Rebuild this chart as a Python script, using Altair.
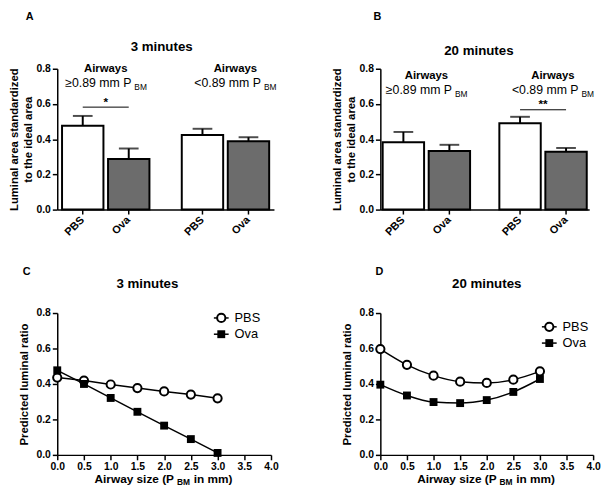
import altair as alt
import pandas as pd

FONT = "Liberation Sans"

# ---------------- data ----------------
treatments = ["PBS", "Ova"]
groups = ["large", "small"]
header_line1 = ["Airways", "Airways"]
header_line2 = ["\u22650.89 mm P", "<0.89 mm P"]
header_sub = "BM"

# Panel A (3 minutes): bar means and upper SEM ends, order PBS, Ova, PBS, Ova
a_mean = [0.476, 0.287, 0.424, 0.388]
a_err = [0.532, 0.347, 0.459, 0.411]
# Panel B (20 minutes)
b_mean = [0.382, 0.333, 0.491, 0.328]
b_err = [0.441, 0.368, 0.527, 0.350]

# Panels C/D: predicted luminal ratio vs airway size
sizes = [0.0, 0.5, 1.0, 1.5, 2.0, 2.5, 3.0]
c_pbs = [0.436, 0.419, 0.397, 0.377, 0.358, 0.340, 0.319]
c_ova = [0.477, 0.400, 0.321, 0.243, 0.165, 0.089, 0.011]
d_pbs = [0.597, 0.508, 0.447, 0.413, 0.406, 0.424, 0.471]
d_ova = [0.396, 0.335, 0.298, 0.292, 0.309, 0.355, 0.428]

y_ticks = [0.0, 0.2, 0.4, 0.6, 0.8]
x_ticks = [0.0, 0.5, 1.0, 1.5, 2.0, 2.5, 3.0, 3.5, 4.0]
bar_ytitle = ["Luminal area standardized", "to the ideal area"]
line_ytitle = "Predicted luminal ratio"
xtitle_parts = ["Airway size (P", "BM", "in mm)"]


def txt(s):
    return alt.Chart(pd.DataFrame({"t": [s]}))


def bar_panel(letter, title, means, errs, sig_group, sig_y, star, star_y,
              w, pad_in, pad_out, head_y, letter_xy, title_xy):
    H = 143
    df = pd.DataFrame({
        "group": [g for g in groups for _ in treatments],
        "treatment": treatments * 2,
        "mean": means,
        "err": errs,
    })
    xs = alt.Scale(domain=groups, paddingInner=pad_in, paddingOuter=pad_out)
    xo = alt.Scale(domain=treatments, paddingInner=0.1, paddingOuter=0)
    ys = alt.Scale(domain=[0, 0.8], nice=False)
    X = alt.X("group:N", scale=xs,
              axis=alt.Axis(labels=False, ticks=False, title=None, domain=True))
    XO = alt.XOffset("treatment:N", scale=xo)
    yax = alt.Axis(values=y_ticks, format=".1f", titlePadding=3, titleLineHeight=14)
    base = alt.Chart(df)
    bars = base.mark_bar(stroke="black", strokeWidth=2).encode(
        x=X, xOffset=XO,
        y=alt.Y("mean:Q", scale=ys, axis=yax, title=bar_ytitle),
        fill=alt.Fill("treatment:N",
                      scale=alt.Scale(domain=treatments, range=["white", "#6c6c6c"]),
                      legend=None),
    )
    ebar = base.mark_rule(color="black", strokeWidth=2).encode(
        x=X, xOffset=XO,
        y=alt.Y("mean:Q", scale=ys, axis=yax, title=bar_ytitle), y2="err:Q")
    cap = base.mark_tick(color="black", thickness=2, size=20).encode(
        x=X, xOffset=XO,
        y=alt.Y("err:Q", scale=ys, axis=yax, title=bar_ytitle))
    xt = base.mark_rule(color="black", strokeWidth=1.5).encode(
        x=X, xOffset=XO, y=alt.value(H), y2=alt.value(H + 5))
    xl = base.mark_text(angle=315, align="right", baseline="middle",
                        fontWeight="bold", fontSize=11, color="black").encode(
        x=X, xOffset=XO, y=alt.value(H + 9), text="treatment:N")

    sig = pd.DataFrame({"group": [sig_group, sig_group],
                        "treatment": treatments, "y": [sig_y, sig_y]})
    sigline = alt.Chart(sig).mark_line(color="black", strokeWidth=1).encode(
        x=X, xOffset=XO, y=alt.Y("y:Q", scale=ys, axis=yax, title=bar_ytitle))
    stardf = pd.DataFrame({"group": [sig_group], "y": [star_y], "t": [star]})
    startext = alt.Chart(stardf).mark_text(fontWeight="bold", fontSize=12,
                                           color="black").encode(
        x=X, y=alt.Y("y:Q", scale=ys, axis=yax, title=bar_ytitle), text="t:N")

    layers = [bars, ebar, cap, xt, xl, sigline, startext]
    for i, g in enumerate(groups):
        hd = pd.DataFrame({"group": [g], "l1": [header_line1[i]],
                           "l2": [header_line2[i]], "sub": [header_sub]})
        dx = 0 if i == 0 else 10
        hb = alt.Chart(hd)
        layers.append(hb.mark_text(fontWeight="bold", fontSize=11.5, color="black",
                                   baseline="middle", dx=dx).encode(
            x=X, y=alt.value(head_y), text="l1:N"))
        layers.append(hb.mark_text(fontSize=12.5, color="black", align="right",
                                   baseline="middle", dx=dx + 26).encode(
            x=X, y=alt.value(head_y + 15), text="l2:N"))
        layers.append(hb.mark_text(fontSize=8.5, color="black", align="left",
                                   baseline="middle", dx=dx + 29).encode(
            x=X, y=alt.value(head_y + 19), text="sub:N"))

    layers.append(txt(letter).mark_text(fontWeight="bold", fontSize=11,
                                        color="black").encode(
        x=alt.value(letter_xy[0]), y=alt.value(letter_xy[1]), text="t:N"))
    layers.append(txt(title).mark_text(fontWeight="bold", fontSize=13.5,
                                       color="black").encode(
        x=alt.value(w / 2 + title_xy[0]), y=alt.value(title_xy[1]), text="t:N"))
    return alt.layer(*layers).properties(width=w, height=H)


def line_panel(letter, title, pbs, ova, w, interp, leg_xy, letter_xy, title_xy):
    H = 144
    df = pd.DataFrame({
        "size": sizes * 2,
        "value": pbs + ova,
        "series": ["PBS"] * len(sizes) + ["Ova"] * len(sizes),
    })
    xs = alt.Scale(domain=[0, 4], nice=False)
    ys = alt.Scale(domain=[0, 0.8], nice=False)
    X = alt.X("size:Q", scale=xs,
              axis=alt.Axis(values=x_ticks, format=".1f", labelFlush=False,
                            labelOverlap=False),
              title=None)
    Y = alt.Y("value:Q", scale=ys,
              axis=alt.Axis(values=y_ticks, format=".1f", titlePadding=7),
              title=line_ytitle)
    base = alt.Chart(df)
    lines = base.mark_line(color="black", strokeWidth=1.5,
                           interpolate=interp).encode(x=X, y=Y, detail="series:N")
    pts_pbs = base.transform_filter(alt.datum.series == "PBS").mark_point(
        shape="circle", filled=True, fill="white", stroke="black",
        strokeWidth=2, size=70, opacity=1).encode(x=X, y=Y)
    pts_ova = base.transform_filter(alt.datum.series == "Ova").mark_point(
        shape="square", filled=True, color="black", size=64,
        opacity=1).encode(x=X, y=Y)
    layers = [lines, pts_pbs, pts_ova]

    # legend
    lx, ly = leg_xy
    for i, lab in enumerate(treatments):
        yy = ly + i * 16.5
        lb = txt(lab)
        layers.append(lb.mark_rule(color="black", strokeWidth=1.5).encode(
            x=alt.value(lx), x2=alt.value(lx + 15), y=alt.value(yy)))
        if lab == "PBS":
            layers.append(lb.mark_point(shape="circle", filled=True, fill="white",
                                        stroke="black", strokeWidth=2, size=70,
                                        opacity=1).encode(
                x=alt.value(lx + 7.5), y=alt.value(yy)))
        else:
            layers.append(lb.mark_point(shape="square", filled=True, color="black",
                                        size=64, opacity=1).encode(
                x=alt.value(lx + 7.5), y=alt.value(yy)))
        layers.append(lb.mark_text(align="left", baseline="middle", fontSize=13,
                                   color="black").encode(
            x=alt.value(lx + 21), y=alt.value(yy), text="t:N"))

    # x axis title with subscript
    c = w / 2
    layers.append(txt(xtitle_parts[0]).mark_text(
        align="right", baseline="middle", fontWeight="bold", fontSize=12,
        color="black").encode(x=alt.value(c + 10), y=alt.value(H + 25), text="t:N"))
    layers.append(txt(xtitle_parts[1]).mark_text(
        align="left", baseline="middle", fontWeight="bold", fontSize=8.5,
        color="black").encode(x=alt.value(c + 13), y=alt.value(H + 28), text="t:N"))
    layers.append(txt(xtitle_parts[2]).mark_text(
        align="left", baseline="middle", fontWeight="bold", fontSize=12,
        color="black").encode(x=alt.value(c + 30), y=alt.value(H + 25), text="t:N"))

    layers.append(txt(letter).mark_text(fontWeight="bold", fontSize=11,
                                        color="black").encode(
        x=alt.value(letter_xy[0]), y=alt.value(letter_xy[1]), text="t:N"))
    layers.append(txt(title).mark_text(fontWeight="bold", fontSize=13.5,
                                       color="black").encode(
        x=alt.value(w / 2 + title_xy[0]), y=alt.value(title_xy[1]), text="t:N"))
    return alt.layer(*layers).properties(width=w, height=H)


pA = bar_panel("A", "3 minutes", a_mean, a_err, "large", 0.582, "*", 0.61,
               220, 0.27, 0.04, 0, (-28, -52), (-4, -22))
pB = bar_panel("B", "20 minutes", b_mean, b_err, "small", 0.567, "**", 0.60,
               212, 0.25, 0.02, 7, (-3, -52), (-6, -18))
pC = line_panel("C", "3 minutes", c_pbs, c_ova, 217, "linear", (159, 5),
                (-31, -42), (-17, -29))
pD = line_panel("D", "20 minutes", d_pbs, d_ova, 216, "monotone", (164, 14),
                (-1, -42), (0, -29))

chart = alt.concat(
    pA, pB, pC, pD, columns=2, spacing={"row": 105, "column": 108},
    bounds="flush", padding=0,
).configure(font=FONT).configure_view(stroke=None).configure_axis(
    labelFont=FONT, labelFontWeight="bold", labelFontSize=10.5, labelColor="black",
    domainColor="black", domainWidth=1.5, tickColor="black", tickWidth=1.5,
    tickSize=5, labelPadding=2, titleFont=FONT, titleFontSize=11.5,
    titleFontWeight="bold", titleColor="black", grid=False,
)

chart.save("out.html", embed_options={"renderer": "svg", "actions": False})
